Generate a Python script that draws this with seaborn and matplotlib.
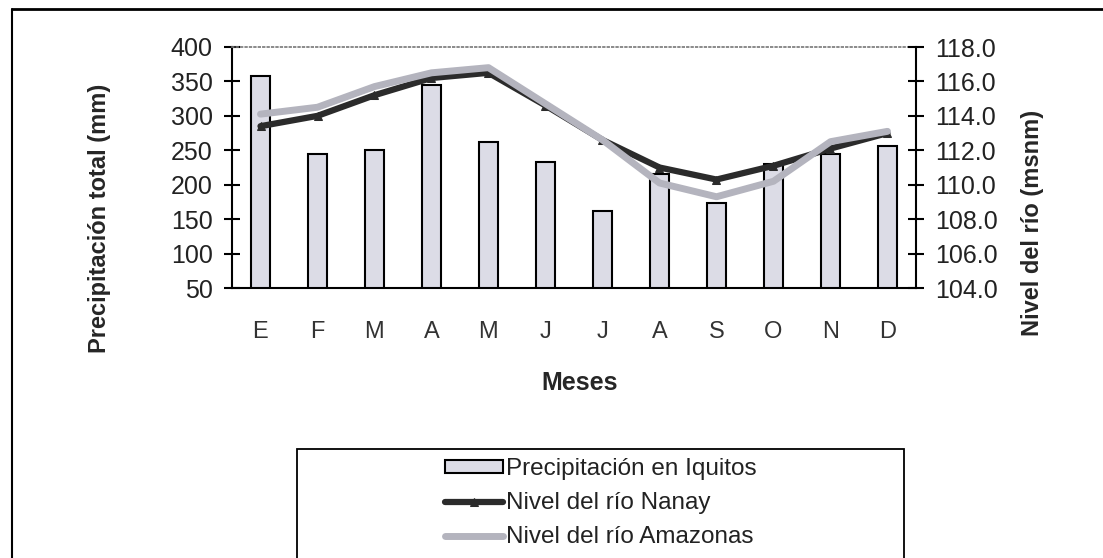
import numpy as np
import pandas as pd
import matplotlib
matplotlib.use("Agg")
import matplotlib.pyplot as plt
from matplotlib.lines import Line2D
from matplotlib.patches import Rectangle
import seaborn as sns

# data
months = ["E", "F", "M", "A", "M", "J", "J", "A", "S", "O", "N", "D"]
precip = [358, 245, 250, 345, 262, 233, 162, 215, 173, 230, 245, 256]  # mm
nanay = [113.4, 114.0, 115.2, 116.2, 116.5, 114.6, 112.6, 111.0, 110.3, 111.1, 112.1, 113.0]  # msnm
amazonas = [114.1, 114.5, 115.7, 116.5, 116.8, 114.7, 112.6, 110.1, 109.3, 110.2, 112.5, 113.1]  # msnm

xpos = list(range(len(months)))

sns.set_style("white")
plt.rcParams['font.family'] = ['Liberation Sans', 'DejaVu Sans']

fig = plt.figure(figsize=(11.03, 5.58), dpi=100)
ax = fig.add_axes([232 / 1103, 1 - 288 / 558, 684 / 1103, 241 / 558])

# bars - precipitation
sns.barplot(x=xpos, y=precip, ax=ax, color="#dcdce6", saturation=1,
            edgecolor="black", linewidth=1.5, width=0.32)
ax.set_ylim(50, 400)
ax.set_yticks(range(50, 401, 50))
ax.set_xlim(-0.5, 11.5)

# lines - river levels on secondary axis
ax2 = ax.twinx()
sns.lineplot(x=xpos, y=nanay, ax=ax2, color="#2b2b2b", linewidth=4.5,
             marker="^", markersize=6, markeredgecolor="#2b2b2b")
sns.lineplot(x=xpos, y=amazonas, ax=ax2, color="#b4b4be", linewidth=5)
ax2.set_ylim(104, 118)
ax2.set_yticks(np.arange(104, 118.1, 2))
ax2.set_yticklabels([f"{v:.1f}" for v in np.arange(104, 118.1, 2)])
ax2.set_xlim(-0.5, 11.5)

# ticks: boundaries crossing the axis, month labels centred in slots
ax.set_xticks(np.arange(-0.5, 12, 1))
ax.set_xticklabels([])
ax.set_xticks(xpos, minor=True)
ax.set_xticklabels(months, minor=True)
ax.tick_params(axis="x", which="major", direction="inout", length=12, width=1.5, color="black")
ax.tick_params(axis="x", which="minor", length=0, pad=24, labelsize=17, labelcolor="#333333")
ax.tick_params(axis="y", direction="inout", length=12, width=1.5, color="black",
               pad=8, labelsize=18, labelcolor="#222222", left=True)
ax2.tick_params(axis="y", direction="inout", length=12, width=1.5, color="black",
                pad=8, labelsize=18, labelcolor="#222222", right=True)

# spines
for s in ["left", "bottom"]:
    ax.spines[s].set_color("black")
    ax.spines[s].set_linewidth(1.5)
ax.spines["right"].set_visible(False)
ax.spines["top"].set_color("#777777")
ax.spines["top"].set_linestyle(":")
ax.spines["top"].set_linewidth(1.2)
for s in ["left", "bottom", "top"]:
    ax2.spines[s].set_visible(False)
ax2.spines["right"].set_color("black")
ax2.spines["right"].set_linewidth(1.5)

# axis labels
ax.set_ylabel("Precipitación total (mm)", fontsize=17, fontweight="bold", va="center")
ax.yaxis.set_label_coords(-0.193, 0.29)
ax2.set_ylabel("Nivel del río (msnm)", fontsize=17, fontweight="bold", va="center", rotation=90)
ax2.yaxis.set_label_coords(1.171, 0.27)
ax.set_xlabel("Meses", fontsize=18, fontweight="bold", va="center")
ax.xaxis.set_label_coords(0.508, -0.394)

# legend
handles = [ax.patches[0], ax2.lines[0], ax2.lines[1]]
labels = ["Precipitación en Iquitos", "Nivel del río Nanay", "Nivel del río Amazonas"]
leg = fig.legend(handles, labels, loc="upper left",
                 bbox_to_anchor=(445 / 1103, 1 - 458 / 558), frameon=False,
                 fontsize=17.5, handlelength=2.4, handleheight=0.45, handletextpad=0.1,
                 labelspacing=0.5, borderpad=0, borderaxespad=0)
for t in leg.get_texts():
    t.set_color("#222222")

# legend box (cut off by the bottom edge) and outer chart border
fig.add_artist(Rectangle((297 / 1103, -0.02), 607 / 1103, (558 - 449) / 558 + 0.02,
                         transform=fig.transFigure, fill=False, edgecolor="black", linewidth=1.3))
fig.add_artist(Line2D([12 / 1103, 12 / 1103], [0, 1 - 9 / 558], transform=fig.transFigure,
                      color="black", linewidth=1.5))
fig.add_artist(Line2D([12 / 1103, 1], [1 - 9 / 558, 1 - 9 / 558], transform=fig.transFigure,
                      color="black", linewidth=2))

fig.savefig("out.png", dpi=100)
